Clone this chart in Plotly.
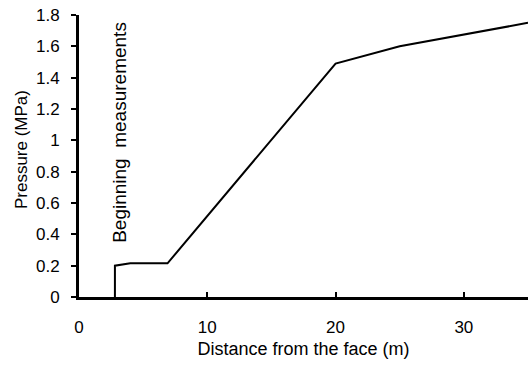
import plotly.graph_objects as go

distance = [2.8, 2.8, 4.0, 6.9, 20.0, 25.0, 35.0]
pressure = [0.0, 0.2, 0.215, 0.215, 1.49, 1.6, 1.75]
annotation_text = "Beginning  measurements"
x_ticks = [0, 10, 20, 30]
y_ticks = [0, 0.2, 0.4, 0.6, 0.8, 1, 1.2, 1.4, 1.6, 1.8]
y_ticktext = ["0", "0.2", "0.4", "0.6", "0.8", "1", "1.2", "1.4", "1.6", "1.8"]

FONT = "Liberation Sans, Arial, sans-serif"

fig = go.Figure()
fig.add_trace(go.Scatter(x=distance, y=pressure, mode="lines",
                         line=dict(color="black", width=2), showlegend=False, cliponaxis=False))

fig.add_annotation(x=3.2, y=0.33, xref="x", yref="y", text=annotation_text, textangle=-90,
                   showarrow=False, xanchor="center", yanchor="bottom",
                   font=dict(family=FONT, size=19, color="black"))

# y-axis title placed as annotation for precise positioning
fig.add_annotation(x=0, y=0.521, xref="paper", yref="paper", xshift=-58,
                   text="Pressure (MPa)", textangle=-90, showarrow=False,
                   xanchor="center", yanchor="middle",
                   font=dict(family=FONT, size=17, color="black"))

fig.update_layout(
    width=528, height=367,
    margin=dict(l=79, r=0, t=15, b=70),
    plot_bgcolor="white", paper_bgcolor="white",
    font=dict(family=FONT, size=17, color="black"),
    xaxis=dict(range=[0, 35], tickvals=x_ticks, ticks="inside", ticklen=5,
               tickwidth=1.5, tickcolor="black", showline=True, linecolor="black", linewidth=3,
               showgrid=False, zeroline=False, ticklabelstandoff=13,
               tickfont=dict(family=FONT, size=17),
               title=dict(text="Distance from the face (m)", standoff=6,
                          font=dict(family=FONT, size=18))),
    yaxis=dict(range=[0, 1.8], tickvals=y_ticks, ticktext=y_ticktext,
               ticks="outside", ticklen=5, tickwidth=1.5, tickcolor="black",
               showline=True, linecolor="black", linewidth=3, showgrid=False, zeroline=False,
               ticklabelstandoff=8, tickfont=dict(family=FONT, size=17)),
)

fig.write_html("out.html")
